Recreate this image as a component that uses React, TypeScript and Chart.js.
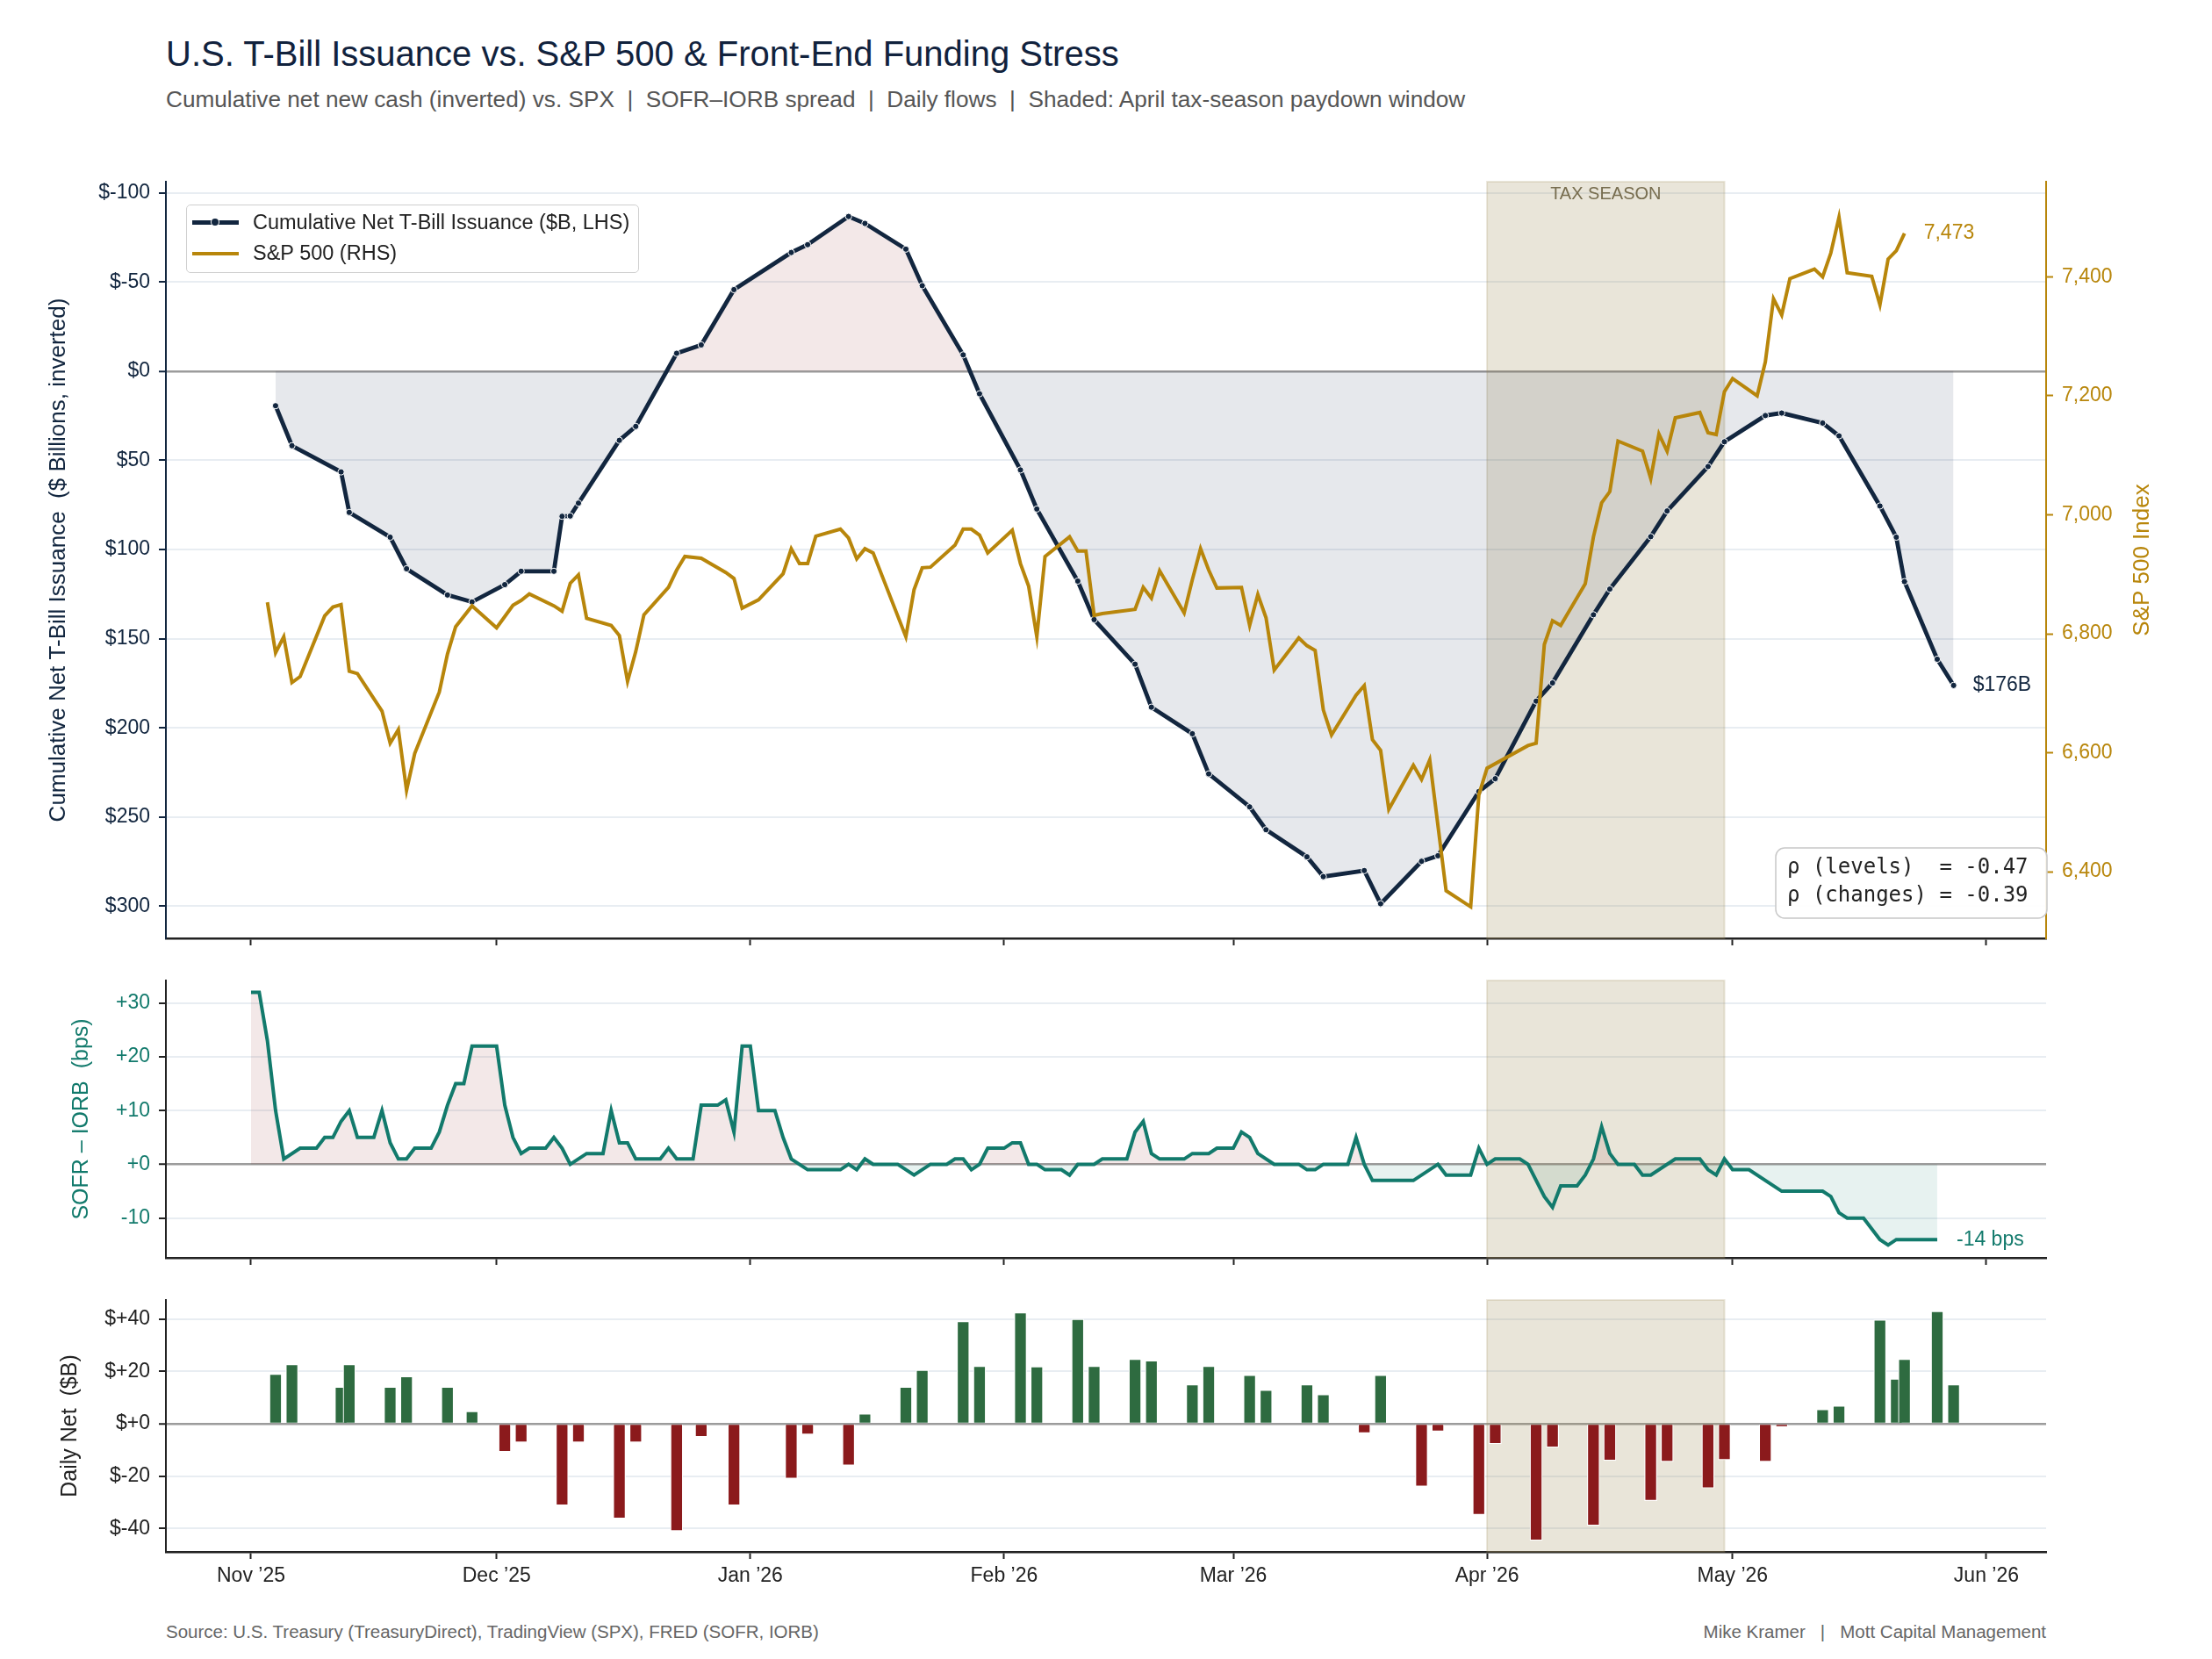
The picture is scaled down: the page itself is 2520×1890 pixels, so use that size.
"use client"

import { useEffect, useRef } from "react"
import { Chart, registerables } from "chart.js"

Chart.register(...registerables)

// x values are days counted from 1 Nov 2025
const monthTicks = [0, 30, 61, 92, 120, 151, 181, 212]
const monthLabels = ["Nov ’25", "Dec ’25", "Jan ’26", "Feb ’26", "Mar ’26", "Apr ’26", "May ’26", "Jun ’26"]
const taxStart = 151
const taxEnd = 180

// cumulative net T-bill issuance ($B, plotted inverted)
const tbillDays = [3, 5, 11, 12, 17, 19, 24, 27, 31, 33, 37, 38, 39, 40, 45, 47, 52, 55, 59, 66, 68, 73, 75, 80, 82, 87, 89, 94, 96, 101, 103, 108, 110, 115, 117, 122, 124, 129, 131, 136, 138, 143, 145, 150, 152, 157, 159, 164, 166, 171, 173, 178, 180, 185, 187, 192, 194, 199, 201, 202, 206, 208]
const tbillValues = [19.4, 41.8, 56.5, 79.2, 93.1, 110.8, 125.5, 129.4, 119.7, 112.2, 112.2, 81.4, 81.2, 74.0, 38.8, 31.0, -10.0, -14.7, -45.7, -66.5, -70.9, -86.7, -82.8, -68.4, -47.9, -9.1, 12.7, 55.4, 77.3, 117.7, 139.3, 164.3, 188.4, 203.3, 225.8, 244.3, 257.1, 272.3, 283.4, 280.0, 298.6, 274.8, 271.7, 235.7, 228.5, 185.0, 174.8, 136.6, 122.2, 92.8, 78.4, 53.5, 39.6, 24.9, 23.5, 29.1, 36.3, 75.6, 93.1, 118.0, 161.5, 176.2]

// S&P 500 closes
const spxDays = [2, 3, 4, 5, 6, 9, 10, 11, 12, 13, 16, 17, 18, 19, 20, 23, 24, 25, 27, 30, 32, 33, 34, 37, 38, 39, 40, 41, 44, 45, 46, 47, 48, 51, 52, 53, 55, 58, 59, 60, 62, 65, 66, 67, 68, 69, 72, 73, 74, 75, 76, 80, 81, 82, 83, 86, 87, 88, 89, 90, 93, 94, 95, 96, 97, 100, 101, 102, 103, 104, 108, 109, 110, 111, 114, 115, 116, 117, 118, 121, 122, 123, 124, 125, 128, 129, 130, 131, 132, 135, 136, 137, 138, 139, 142, 143, 144, 146, 149, 150, 151, 156, 157, 158, 159, 160, 163, 164, 165, 166, 167, 170, 171, 172, 173, 174, 177, 178, 179, 180, 181, 184, 185, 186, 187, 188, 191, 192, 193, 194, 195, 198, 199, 200, 201, 202]
const spxValues = [6853, 6768, 6795, 6718, 6728, 6830, 6845, 6849, 6737, 6733, 6670, 6616, 6639, 6537, 6599, 6702, 6766, 6812, 6847, 6810, 6848, 6856, 6867, 6847, 6838, 6885, 6899, 6826, 6814, 6797, 6720, 6770, 6832, 6878, 6907, 6930, 6927, 6903, 6893, 6843, 6857, 6901, 6943, 6918, 6918, 6964, 6976, 6961, 6926, 6943, 6936, 6795, 6874, 6911, 6912, 6949, 6976, 6976, 6966, 6936, 6974, 6918, 6880, 6795, 6930, 6963, 6939, 6939, 6831, 6834, 6841, 6878, 6860, 6906, 6835, 6891, 6943, 6907, 6877, 6878, 6814, 6866, 6827, 6739, 6793, 6780, 6772, 6672, 6630, 6697, 6713, 6622, 6604, 6505, 6579, 6555, 6588, 6368, 6341, 6529, 6574, 6612, 6616, 6782, 6822, 6814, 6884, 6963, 7020, 7039, 7124, 7107, 7061, 7136, 7107, 7163, 7172, 7138, 7135, 7207, 7229, 7200, 7257, 7363, 7336, 7397, 7413, 7400, 7440, 7500, 7407, 7401, 7353, 7430, 7444, 7473]

// SOFR - IORB spread (bps)
const sofrDays = [0, 1, 2, 3, 4, 6, 8, 9, 10, 11, 12, 13, 15, 16, 17, 18, 19, 20, 22, 23, 24, 25, 26, 27, 30, 31, 32, 33, 34, 36, 37, 38, 39, 41, 43, 44, 45, 46, 47, 50, 51, 52, 54, 55, 57, 58, 59, 60, 61, 62, 64, 65, 66, 68, 72, 73, 74, 75, 76, 79, 81, 83, 85, 86, 87, 88, 89, 90, 92, 93, 94, 95, 96, 97, 99, 100, 101, 103, 104, 107, 108, 109, 110, 111, 114, 115, 117, 118, 120, 121, 122, 123, 125, 128, 129, 130, 131, 134, 135, 136, 137, 142, 145, 146, 149, 150, 151, 152, 155, 156, 158, 159, 160, 162, 163, 164, 165, 166, 167, 169, 170, 171, 174, 177, 178, 179, 180, 181, 183, 187, 192, 193, 194, 195, 197, 199, 200, 201, 206]
const sofrValues = [32, 32, 23, 10, 1, 3, 3, 5, 5, 8, 10, 5, 5, 10, 4, 1, 1, 3, 3, 6, 11, 15, 15, 22, 22, 11, 5, 2, 3, 3, 5, 3, 0, 2, 2, 10, 4, 4, 1, 1, 3, 1, 1, 11, 11, 12, 6, 22, 22, 10, 10, 5, 1, -1, -1, 0, -1, 1, 0, 0, -2, 0, 0, 1, 1, -1, 0, 3, 3, 4, 4, 0, 0, -1, -1, -2, 0, 0, 1, 1, 6, 8, 2, 1, 1, 2, 2, 3, 3, 6, 5, 2, 0, 0, -1, -1, 0, 0, 5, 0, -3, -3, 0, -2, -2, 3, 0, 1, 1, 0, -6, -8, -4, -4, -2, 1, 7, 2, 0, 0, -2, -2, 1, 1, -1, -2, 1, -1, -1, -5, -5, -6, -9, -10, -10, -14, -15, -14, -14]

// daily net T-bill cash ($B)
const flowDays = [3, 5, 11, 12, 17, 19, 24, 27, 31, 33, 38, 40, 45, 47, 52, 55, 59, 66, 68, 73, 75, 80, 82, 87, 89, 94, 96, 101, 103, 108, 110, 115, 117, 122, 124, 129, 131, 136, 138, 143, 145, 150, 152, 157, 159, 164, 166, 171, 173, 178, 180, 185, 187, 192, 194, 199, 201, 202, 206, 208]
const flowValues = [19.0, 22.7, 14.0, 22.7, 14.0, 18.1, 14.0, 4.7, -10.7, -7.1, -31.2, -7.1, -36.2, -7.1, -41.0, -5.0, -31.2, -20.9, -4.1, -15.9, 3.8, 14.0, 20.5, 39.1, 22.0, 42.5, 21.8, 40.0, 22.0, 24.7, 24.1, 15.0, 22.0, 18.6, 12.9, 15.0, 11.2, -3.6, 18.6, -24.0, -2.9, -34.8, -7.7, -44.6, -9.0, -38.9, -14.1, -29.4, -14.5, -24.6, -13.8, -14.5, -1.2, 5.5, 6.8, 39.7, 17.1, 24.7, 43.0, 15.0]

const issuanceTicks = [-100, -50, 0, 50, 100, 150, 200, 250, 300]
const spxTicks = [6400, 6600, 6800, 7000, 7200, 7400]
const spreadTicks = [-10, 0, 10, 20, 30]
const flowTicks = [-40, -20, 0, 20, 40]
const rhoLines = ["ρ (levels)  = -0.47", "ρ (changes) = -0.39"]

const FONT = '"Liberation Sans", Arial, Helvetica, sans-serif'
const MONO = '"DejaVu Sans Mono", "Liberation Mono", monospace'
const NAVY = "#12263f"
const GOLD = "#b8860b"
const TEAL = "#127a6c"
const GREEN = "#2e6b40"
const RED = "#8b1a1c"
const DARK = "#222222"
const GRID = "#e8edf2"
const ZERO = "#9c9c9c"
const PINK_FILL = "rgba(150,50,50,0.11)"
const GREY_FILL = "rgba(13,34,64,0.10)"
const TEAL_FILL = "rgba(15,123,108,0.10)"
const SHADE = "rgba(165,145,95,0.24)"
const SHADE_EDGE = "rgba(165,145,95,0.22)"

const X_MIN = -10.4
const X_MAX = 219.3
const TICK_FONT = { family: FONT, size: 23 }
const TITLE_FONT = { family: FONT, size: 25 }

const gridColor = (ctx: any) => (ctx.tick && ctx.tick.value === 0 ? ZERO : GRID)
const gridWidth = (ctx: any) => (ctx.tick && ctx.tick.value === 0 ? 2.5 : 2)

function xAxis(showLabels: boolean, height: number) {
  return {
    type: "linear",
    min: X_MIN,
    max: X_MAX,
    offset: false,
    grid: { display: true, drawOnChartArea: false, drawTicks: true, tickLength: 8, tickWidth: 2, tickColor: DARK, offset: false },
    border: { display: true, color: DARK, width: 2.5 },
    afterBuildTicks: (s: any) => {
      s.ticks = monthTicks.map((value) => ({ value }))
    },
    afterFit: (s: any) => {
      s.height = height
    },
    ticks: {
      display: showLabels,
      autoSkip: false,
      maxRotation: 0,
      padding: 6,
      color: DARK,
      font: TICK_FONT,
      callback: (v: number) => monthLabels[monthTicks.indexOf(v)] ?? "",
    },
  }
}

const taxShade = {
  id: "taxShade",
  beforeDatasetsDraw(chart: any) {
    const { ctx, chartArea, scales } = chart
    const x0 = scales.x.getPixelForValue(taxStart)
    const x1 = scales.x.getPixelForValue(taxEnd)
    const h = chartArea.bottom - chartArea.top
    ctx.save()
    ctx.fillStyle = SHADE
    ctx.fillRect(x0, chartArea.top, x1 - x0, h)
    ctx.strokeStyle = SHADE_EDGE
    ctx.lineWidth = 2
    ctx.strokeRect(x0, chartArea.top, x1 - x0, h)
    ctx.restore()
  },
}

const topNotes = {
  id: "topNotes",
  afterDatasetsDraw(chart: any) {
    const { ctx, chartArea, scales } = chart
    ctx.save()
    const xm = (scales.x.getPixelForValue(taxStart) + scales.x.getPixelForValue(taxEnd)) / 2
    ctx.font = `20px ${FONT}`
    ctx.fillStyle = "#776d4f"
    ctx.textAlign = "center"
    ctx.textBaseline = "middle"
    ctx.fillText("TAX SEASON", xm, chartArea.top + 14)

    // right axis title, reading upwards
    ctx.save()
    ctx.translate(scales.y1.right - 15, (chartArea.top + chartArea.bottom) / 2)
    ctx.rotate(-Math.PI / 2)
    ctx.font = `26px ${FONT}`
    ctx.fillStyle = GOLD
    ctx.fillText("S&P 500 Index", 0, 0)
    ctx.restore()

    ctx.textAlign = "left"
    ctx.font = `23px ${FONT}`
    const spxPts = chart.getDatasetMeta(0).data
    const sp = spxPts[spxPts.length - 1]
    ctx.fillStyle = GOLD
    ctx.fillText(spxValues[spxValues.length - 1].toLocaleString("en-US"), sp.x + 22, sp.y)
    const tbPts = chart.getDatasetMeta(1).data
    const tp = tbPts[tbPts.length - 1]
    ctx.fillStyle = NAVY
    ctx.fillText(`$${Math.round(tbillValues[tbillValues.length - 1])}B`, tp.x + 22, tp.y)

    // correlation box
    const bw = 309
    const bh = 80
    const bx = chartArea.right + 1 - bw
    const by = chartArea.bottom - 23 - bh
    ctx.beginPath()
    ctx.roundRect(bx, by, bw, bh, 10)
    ctx.fillStyle = "rgba(255,255,255,0.92)"
    ctx.fill()
    ctx.strokeStyle = "#c8c8c8"
    ctx.lineWidth = 1.5
    ctx.stroke()
    ctx.font = `24px ${MONO}`
    ctx.fillStyle = DARK
    ctx.fillText(rhoLines[0], bx + 13, by + 23)
    ctx.fillText(rhoLines[1], bx + 13, by + 55)
    ctx.restore()
  },
}

const spreadNote = {
  id: "spreadNote",
  afterDatasetsDraw(chart: any) {
    const { ctx } = chart
    const pts = chart.getDatasetMeta(0).data
    const p = pts[pts.length - 1]
    ctx.save()
    ctx.font = `23px ${FONT}`
    ctx.fillStyle = TEAL
    ctx.textAlign = "left"
    ctx.textBaseline = "middle"
    ctx.fillText(`${sofrValues[sofrValues.length - 1]} bps`, p.x + 22, p.y)
    ctx.restore()
  },
}

function IssuanceChart() {
  const chartRef = useRef<HTMLCanvasElement>(null)

  useEffect(() => {
    if (!chartRef.current) return
    const chart = new Chart(chartRef.current, {
      type: "line",
      data: {
        datasets: [
          {
            label: "S&P 500 (RHS)",
            data: spxDays.map((d, i) => ({ x: d, y: spxValues[i] })),
            yAxisID: "y1",
            borderColor: GOLD,
            borderWidth: 4,
            pointRadius: 0,
            tension: 0,
            fill: false,
          },
          {
            label: "Cumulative Net T-Bill Issuance ($B, LHS)",
            data: tbillDays.map((d, i) => ({ x: d, y: tbillValues[i] })),
            yAxisID: "y",
            borderColor: NAVY,
            borderWidth: 4.8,
            pointRadius: 3.6,
            pointBackgroundColor: NAVY,
            pointBorderColor: "#ffffff",
            pointBorderWidth: 1,
            tension: 0,
            fill: { target: { value: 0 }, above: PINK_FILL, below: GREY_FILL },
          },
        ],
      },
      options: {
        animation: false,
        responsive: true,
        maintainAspectRatio: false,
        layout: { padding: { left: 51, right: 64, top: 27, bottom: 0 } },
        plugins: { legend: { display: false }, tooltip: { enabled: false } },
        scales: {
          x: xAxis(false, 31) as any,
          y: {
            type: "linear",
            position: "left",
            reverse: true,
            min: -106.2,
            max: 318,
            afterBuildTicks: (s: any) => {
              s.ticks = issuanceTicks.map((value) => ({ value }))
            },
            afterFit: (s: any) => {
              s.width = 138
            },
            grid: { color: gridColor, lineWidth: gridWidth, tickColor: NAVY, tickLength: 8, tickWidth: 2 },
            border: { display: true, color: NAVY, width: 2 },
            ticks: { color: NAVY, font: TICK_FONT, padding: 10, callback: (v: any) => `$${v}` },
            title: { display: true, text: "Cumulative Net T-Bill Issuance  ($ Billions, inverted)", color: NAVY, font: { family: FONT, size: 26 }, padding: 0 },
          },
          y1: {
            type: "linear",
            position: "right",
            min: 6288,
            max: 7560,
            afterBuildTicks: (s: any) => {
              s.ticks = spxTicks.map((value) => ({ value }))
            },
            afterFit: (s: any) => {
              s.width = 125
            },
            grid: { drawOnChartArea: false, tickColor: GOLD, tickLength: 8, tickWidth: 2 },
            border: { display: true, color: GOLD, width: 2 },
            ticks: { color: GOLD, font: TICK_FONT, padding: 10, callback: (v: any) => Number(v).toLocaleString("en-US") },
            title: { display: false },
          },
        },
      },
      plugins: [taxShade, topNotes],
    } as any)

    return () => {
      chart.destroy()
    }
  }, [])

  return (
    <div style={{ position: "absolute", left: 0, top: 180, width: 2520, height: 920 }}>
      <canvas ref={chartRef} />
    </div>
  )
}

function SpreadChart() {
  const chartRef = useRef<HTMLCanvasElement>(null)

  useEffect(() => {
    if (!chartRef.current) return
    const chart = new Chart(chartRef.current, {
      type: "line",
      data: {
        datasets: [
          {
            label: "SOFR - IORB",
            data: sofrDays.map((d, i) => ({ x: d, y: sofrValues[i] })),
            borderColor: TEAL,
            borderWidth: 4,
            pointRadius: 0,
            tension: 0,
            fill: { target: { value: 0 }, above: PINK_FILL, below: TEAL_FILL },
          },
        ],
      },
      options: {
        animation: false,
        responsive: true,
        maintainAspectRatio: false,
        layout: { padding: { left: 78, right: 189, top: 27, bottom: 0 } },
        plugins: { legend: { display: false }, tooltip: { enabled: false } },
        scales: {
          x: xAxis(false, 30) as any,
          y: {
            type: "linear",
            min: -17.4,
            max: 34.2,
            afterBuildTicks: (s: any) => {
              s.ticks = spreadTicks.map((value) => ({ value }))
            },
            afterFit: (s: any) => {
              s.width = 111
            },
            grid: { color: gridColor, lineWidth: gridWidth, tickColor: DARK, tickLength: 8, tickWidth: 2 },
            border: { display: true, color: DARK, width: 2 },
            ticks: { color: TEAL, font: TICK_FONT, padding: 10, callback: (v: any) => (v >= 0 ? `+${v}` : `${v}`) },
            title: { display: true, text: "SOFR – IORB  (bps)", color: TEAL, font: TITLE_FONT, padding: 0 },
          },
        },
      },
      plugins: [taxShade, spreadNote],
    } as any)

    return () => {
      chart.destroy()
    }
  }, [])

  return (
    <div style={{ position: "absolute", left: 0, top: 1090, width: 2520, height: 373 }}>
      <canvas ref={chartRef} />
    </div>
  )
}

function FlowChart() {
  const chartRef = useRef<HTMLCanvasElement>(null)

  useEffect(() => {
    if (!chartRef.current) return
    const chart = new Chart(chartRef.current, {
      type: "bar",
      data: {
        datasets: [
          {
            label: "Daily Net",
            data: flowDays.map((d, i) => ({ x: d, y: flowValues[i] })),
            backgroundColor: flowValues.map((v) => (v >= 0 ? GREEN : RED)),
            borderColor: "#ffffff",
            borderWidth: 1.2,
            barThickness: 14,
          },
        ],
      },
      options: {
        animation: false,
        responsive: true,
        maintainAspectRatio: false,
        layout: { padding: { left: 65, right: 189, top: 27, bottom: 0 } },
        plugins: { legend: { display: false }, tooltip: { enabled: false } },
        scales: {
          x: xAxis(true, 60) as any,
          y: {
            type: "linear",
            min: -49,
            max: 47.3,
            afterBuildTicks: (s: any) => {
              s.ticks = flowTicks.map((value) => ({ value }))
            },
            afterFit: (s: any) => {
              s.width = 124
            },
            grid: { color: gridColor, lineWidth: gridWidth, tickColor: DARK, tickLength: 8, tickWidth: 2 },
            border: { display: true, color: DARK, width: 2 },
            ticks: { color: DARK, font: TICK_FONT, padding: 10, callback: (v: any) => (v >= 0 ? `$+${v}` : `$${v}`) },
            title: { display: true, text: "Daily Net  ($B)", color: DARK, font: TITLE_FONT, padding: 0 },
          },
        },
      },
      plugins: [taxShade],
    } as any)

    return () => {
      chart.destroy()
    }
  }, [])

  return (
    <div style={{ position: "absolute", left: 0, top: 1454, width: 2520, height: 374 }}>
      <canvas ref={chartRef} />
    </div>
  )
}

function Legend() {
  const row = { position: "absolute" as const, left: 0, height: 35, width: "100%", display: "flex", alignItems: "center" }
  return (
    <div
      style={{
        position: "absolute",
        left: 212,
        top: 233,
        width: 516,
        height: 78,
        boxSizing: "border-box",
        border: "1.5px solid #cfcfcf",
        borderRadius: 5,
        background: "rgba(255,255,255,0.92)",
      }}
    >
      <div style={{ ...row, top: 2 }}>
        <div style={{ position: "relative", marginLeft: 6, width: 53, height: 4.5, background: NAVY }}>
          <div style={{ position: "absolute", left: 22, top: -2, width: 8, height: 8, borderRadius: 4, background: NAVY, boxShadow: "0 0 0 1px #fff" }} />
        </div>
        <span style={{ marginLeft: 16, fontSize: 23.5, lineHeight: 1, color: DARK }}>Cumulative Net T-Bill Issuance ($B, LHS)</span>
      </div>
      <div style={{ ...row, top: 37 }}>
        <div style={{ marginLeft: 6, width: 53, height: 4, background: GOLD }} />
        <span style={{ marginLeft: 16, fontSize: 23.5, lineHeight: 1, color: DARK }}>S&amp;P 500 (RHS)</span>
      </div>
    </div>
  )
}

export default function App() {
  useEffect(() => {
    document.body.style.margin = "0"
    document.body.style.background = "#ffffff"
  }, [])

  return (
    <div
      style={{
        position: "absolute",
        left: 0,
        top: 0,
        width: 2520,
        height: 1890,
        background: "#ffffff",
        fontFamily: FONT,
        overflow: "hidden",
      }}
    >
      <div style={{ position: "absolute", left: 189, top: 41, fontSize: 40, lineHeight: 1, color: "#11223d", whiteSpace: "pre" }}>
        U.S. T-Bill Issuance vs. S&amp;P 500 &amp; Front-End Funding Stress
      </div>
      <div style={{ position: "absolute", left: 189, top: 100, fontSize: 26.2, lineHeight: 1, color: "#555555", whiteSpace: "pre" }}>
        {"Cumulative net new cash (inverted) vs. SPX  |  SOFR–IORB spread  |  Daily flows  |  Shaded: April tax-season paydown window"}
      </div>

      <IssuanceChart />
      <SpreadChart />
      <FlowChart />
      <Legend />

      <div style={{ position: "absolute", left: 189, top: 1849, fontSize: 20.5, lineHeight: 1, color: "#666666", whiteSpace: "pre" }}>
        Source: U.S. Treasury (TreasuryDirect), TradingView (SPX), FRED (SOFR, IORB)
      </div>
      <div style={{ position: "absolute", right: 189, top: 1849, fontSize: 20.5, lineHeight: 1, color: "#666666", whiteSpace: "pre" }}>
        {"Mike Kramer   |   Mott Capital Management"}
      </div>
    </div>
  )
}
